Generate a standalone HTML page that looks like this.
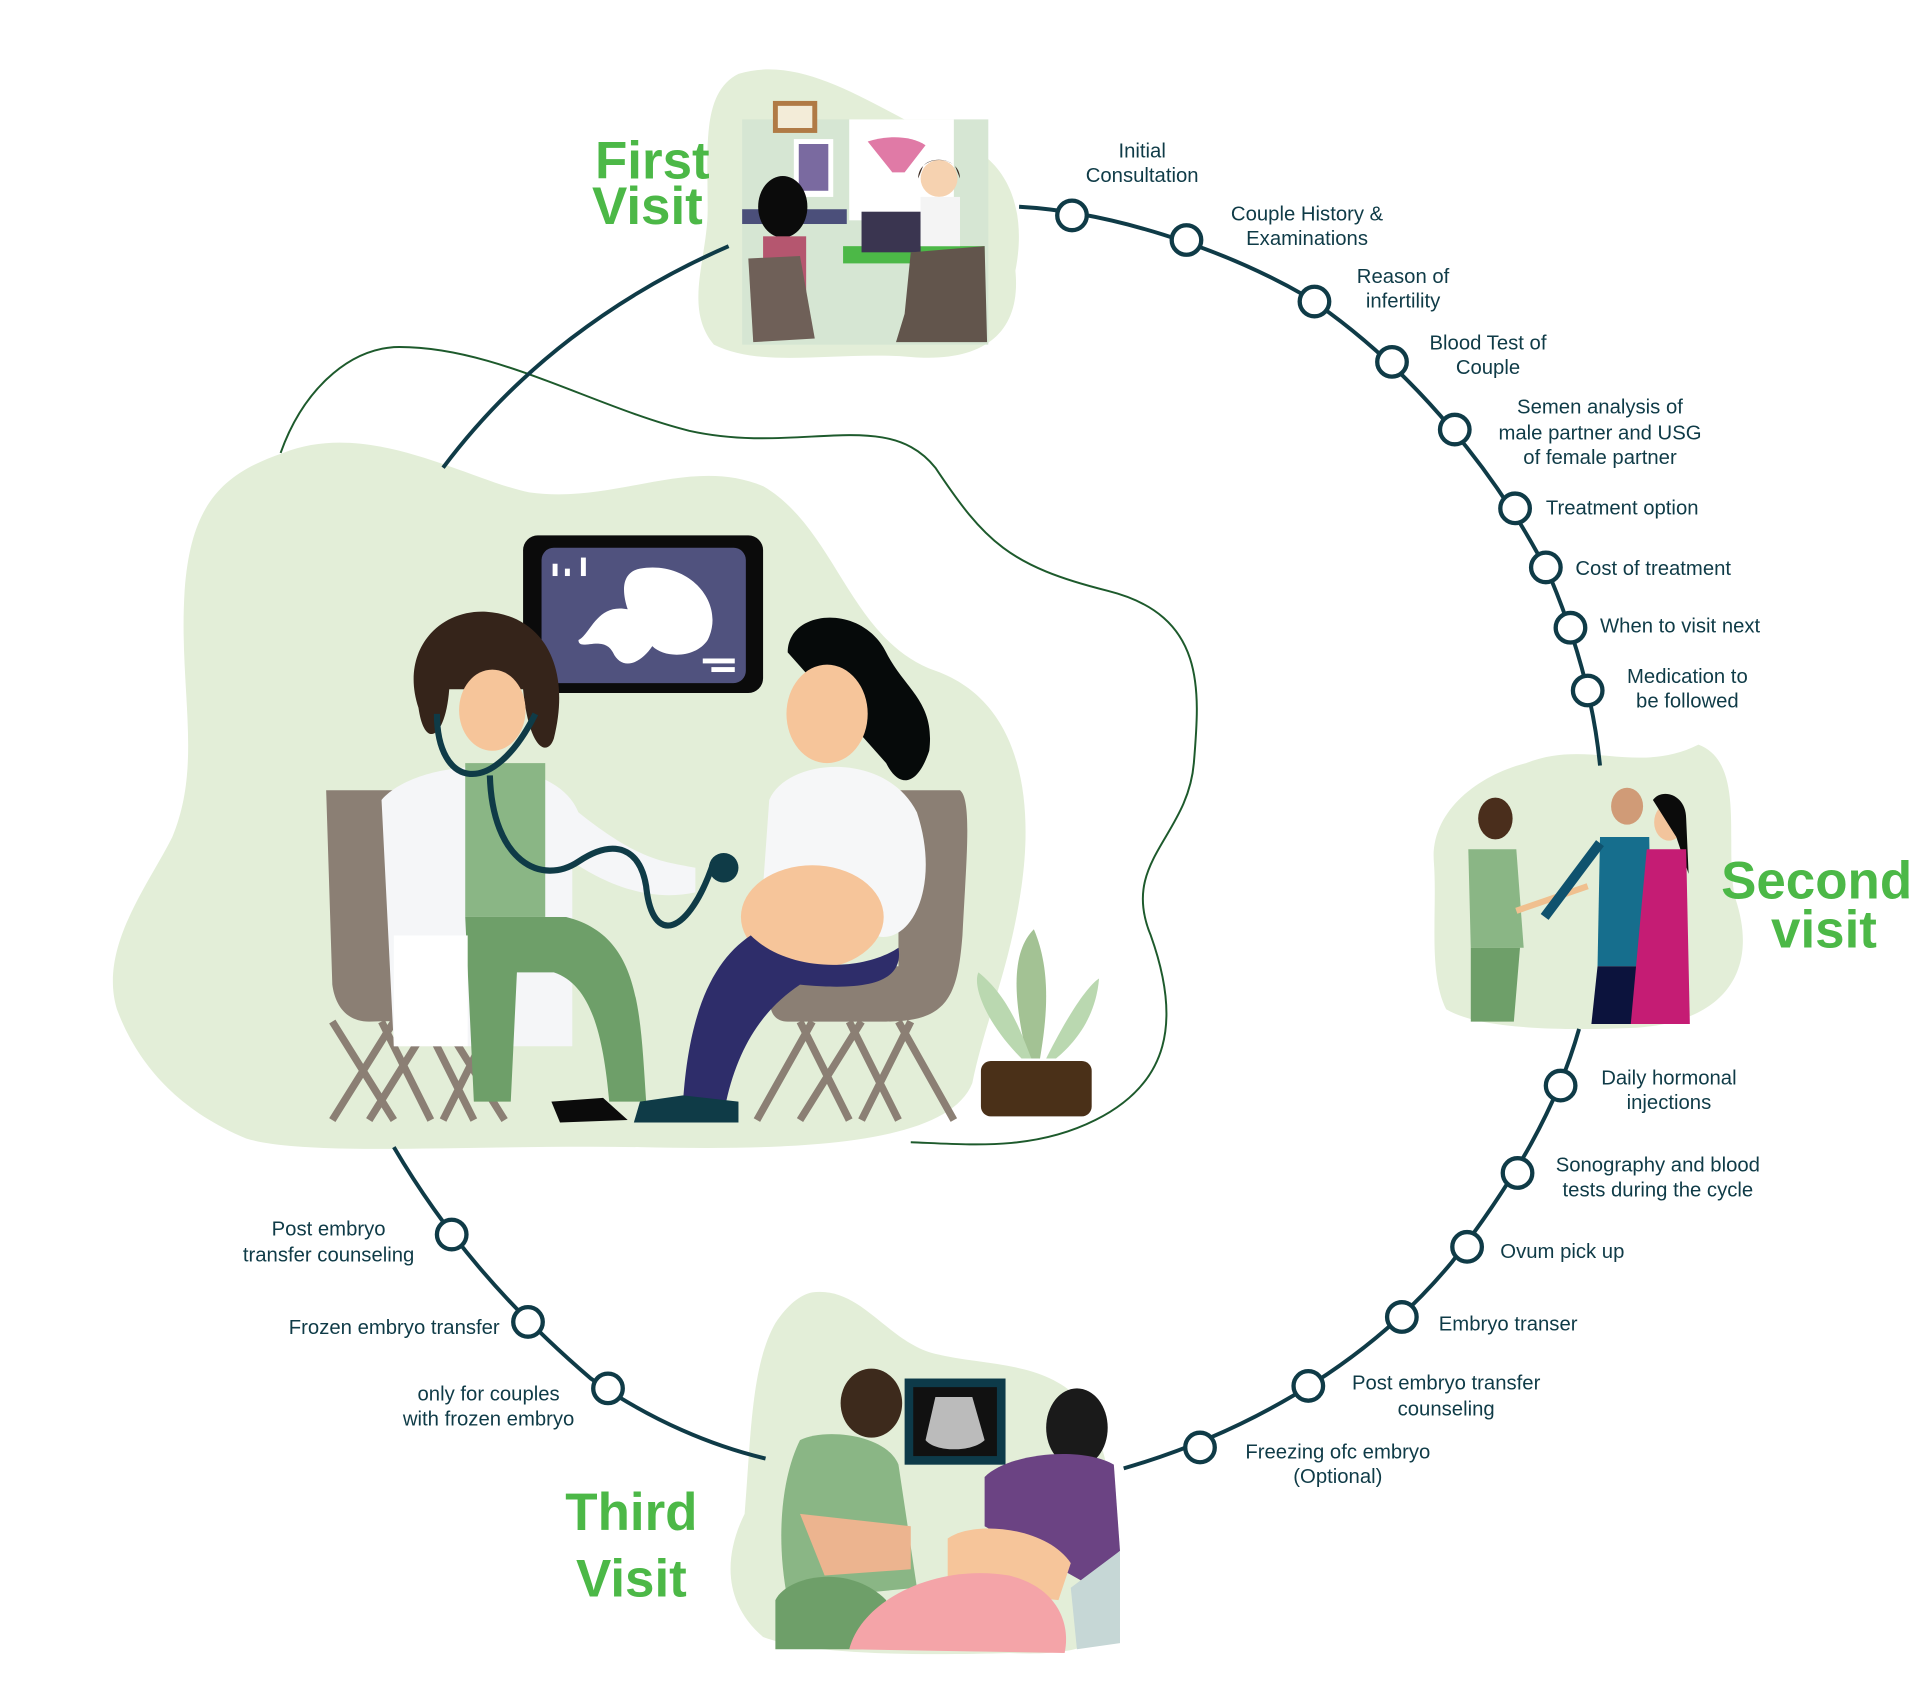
<!DOCTYPE html>
<html><head><meta charset="utf-8"><style>
html,body{margin:0;padding:0;background:#fff;}
svg{display:block;}
.t{font-family:"Liberation Sans",sans-serif;font-size:16.5px;fill:#0f3b47;}
.h{font-family:"Liberation Sans",sans-serif;font-weight:bold;font-size:43px;fill:#4cb847;}
.n{fill:#fff;stroke:#0f3b47;stroke-width:3.5;}
.ln{fill:none;stroke:#0f3b47;stroke-width:3.2;}
</style></head><body>
<svg width="1920" height="1685" viewBox="0 0 1560 1369" preserveAspectRatio="none" xmlns="http://www.w3.org/2000/svg">
<path d="M600,60 C650,45 700,80 760,110 C820,120 835,170 825,220 C830,270 800,295 740,290 C680,285 620,300 580,280 C555,250 575,210 575,170 C575,120 570,75 600,60 Z" fill="#e3eed8"/>
<path d="M230,368 C300,340 380,390 430,400 C500,410 560,370 620,395 C680,430 690,520 760,545 C830,570 840,650 830,720 C820,790 800,830 790,880 C770,930 650,935 520,932 C380,930 250,940 200,925 C140,900 110,860 95,820 C80,770 120,720 140,680 C165,620 145,560 150,480 C155,410 180,385 230,368 Z" fill="#e3eed8"/>
<path d="M1240,620 C1290,600 1330,630 1380,605 C1420,620 1400,690 1410,730 C1430,790 1400,830 1330,835 C1260,838 1200,835 1175,820 C1160,790 1168,740 1165,700 C1162,660 1200,630 1240,620 Z" fill="#e3eed8"/>
<path d="M660,1050 C700,1045 720,1090 760,1100 C800,1110 850,1105 880,1140 C910,1190 905,1260 905,1300 C905,1340 870,1345 820,1343 C750,1345 660,1345 620,1330 C585,1300 590,1260 605,1230 C610,1170 610,1110 630,1075 C640,1060 650,1052 660,1050 Z" fill="#e3eed8"/>
<path d="M228,368 C245,320 280,285 320,282 C400,280 480,330 560,350 C650,370 720,330 760,380 C800,440 820,460 900,480 C980,500 975,560 970,620 C965,680 910,700 935,760 C960,830 950,880 890,910 C840,935 790,930 740,928" fill="none" stroke="#1d5a2c" stroke-width="1.6"/>
<path class="ln" d="M360,380 C420,300 500,240 592,200"/>
<path class="ln" d="M828,168 C900,172 990,200 1060,240 C1150,300 1220,390 1260,470 C1285,530 1296,580 1300,622"/>
<path class="ln" d="M1283,836 C1265,900 1230,960 1180,1025 C1110,1110 1010,1165 913,1193"/>
<path class="ln" d="M320,932 C360,1000 410,1060 480,1120 C530,1155 580,1175 622,1185"/>
<g class="n">
<circle cx="871" cy="175" r="12"/><circle cx="964" cy="195" r="12"/><circle cx="1068" cy="245" r="12"/>
<circle cx="1131" cy="294" r="12"/><circle cx="1182" cy="349" r="12"/><circle cx="1231" cy="413" r="12"/>
<circle cx="1256" cy="461" r="12"/><circle cx="1276" cy="510" r="12"/><circle cx="1290" cy="561" r="12"/>
<circle cx="1268" cy="882" r="12"/><circle cx="1233" cy="953" r="12"/><circle cx="1192" cy="1013" r="12"/>
<circle cx="1139" cy="1070" r="12"/><circle cx="1063" cy="1126" r="12"/><circle cx="975" cy="1176" r="12"/>
<circle cx="367" cy="1003" r="12"/><circle cx="429" cy="1074" r="12"/><circle cx="494" cy="1128" r="12"/>
</g>
<g class="t" text-anchor="middle">
<text x="928" y="128">Initial</text><text x="928" y="148">Consultation</text>
<text x="1062" y="179">Couple History &amp;</text><text x="1062" y="199">Examinations</text>
<text x="1140" y="230">Reason of</text><text x="1140" y="250">infertility</text>
<text x="1209" y="284">Blood Test of</text><text x="1209" y="304">Couple</text>
<text x="1300" y="336">Semen analysis of</text><text x="1300" y="357">male partner and USG</text><text x="1300" y="377">of female partner</text>
<text x="1371" y="555">Medication to</text><text x="1371" y="575">be followed</text>
<text x="1356" y="881">Daily hormonal</text><text x="1356" y="901">injections</text>
<text x="1347" y="952">Sonography and blood</text><text x="1347" y="972">tests during the cycle</text>
<text x="1175" y="1129">Post embryo transfer</text><text x="1175" y="1150">counseling</text>
<text x="1087" y="1185">Freezing ofc embryo</text><text x="1087" y="1205">(Optional)</text>
<text x="267" y="1004">Post embryo</text><text x="267" y="1025">transfer counseling</text>
<text x="397" y="1138">only for couples</text><text x="397" y="1158">with frozen embryo</text>
</g>
<g class="t">
<text x="1256" y="418">Treatment option</text>
<text x="1280" y="467">Cost of treatment</text>
<text x="1300" y="514">When to visit next</text>
<text x="1219" y="1022">Ovum pick up</text>
<text x="1169" y="1081">Embryo transer</text>
<text x="406" y="1084" text-anchor="end">Frozen embryo transfer</text>
</g>
<g class="h" text-anchor="middle">
<text x="530" y="145">First</text><text x="526" y="182">Visit</text>
<text x="1476" y="730">Second</text><text x="1482" y="770">visit</text>
<text x="513" y="1243">Third</text><text x="513" y="1297">Visit</text>
</g>
<rect x="603" y="97" width="200" height="183" fill="#d6e6d3"/>
<rect x="628" y="82" width="36" height="26" fill="#b07a45"/><rect x="632" y="86" width="28" height="18" fill="#f3ecd8"/>
<rect x="645" y="113" width="32" height="47" fill="#fff"/><rect x="649" y="117" width="24" height="38" fill="#7a6aa0"/>
<rect x="690" y="97" width="85" height="82" fill="#fff"/><path d="M705,115 C720,110 740,110 752,118 L735,140 L725,140 Z" fill="#e07aa6"/>
<rect x="603" y="170" width="85" height="12" fill="#4b4f7a"/>
<rect x="685" y="200" width="115" height="14" fill="#4cb847"/>
<rect x="700" y="172" width="48" height="33" fill="#3a3550"/>
<circle cx="763" cy="145" r="15" fill="#f6d2b0"/><path d="M746,145 C746,125 780,125 780,145 L776,135 C770,128 755,128 750,135 Z" fill="#3b2a20"/>
<rect x="748" y="160" width="32" height="40" fill="#f4f4f4"/>
<ellipse cx="636" cy="168" rx="20" ry="25" fill="#0b0b0b"/>
<rect x="620" y="192" width="35" height="50" fill="#b5566f"/>
<path d="M608,210 L650,208 L662,275 L612,278 Z" fill="#6f6058"/>
<path d="M740,205 L800,200 L802,278 L728,278 L735,255 Z" fill="#62554c"/>
<rect x="425" y="435" width="195" height="128" rx="12" fill="#0b0b0b"/>
<rect x="440" y="445" width="166" height="110" rx="10" fill="#50527e"/>
<path d="M520,462 C560,455 590,490 575,520 C565,535 540,535 530,525 C520,540 505,545 498,530 C490,515 470,530 470,520 C480,515 485,490 510,495 C505,480 505,465 520,462 Z" fill="#fff"/>
<rect x="449" y="458" width="4" height="10" fill="#fff"/><rect x="459" y="462" width="4" height="6" fill="#fff"/><rect x="472" y="453" width="4" height="15" fill="#fff"/>
<rect x="571" y="535" width="26" height="4" fill="#fff"/><rect x="578" y="542" width="19" height="4" fill="#fff"/>
<path d="M265,642 L340,642 L345,820 L380,830 L420,790 L420,820 L390,828 L300,830 C280,830 272,815 270,800 Z" fill="#8b7f74"/>
<path d="M270,910 L320,830 M300,910 L350,830 M320,910 L270,830" stroke="#8b7f74" stroke-width="6"/>
<path d="M350,910 L310,830 M385,910 L345,830 M410,910 L360,830 M360,910 L400,830" stroke="#8b7f74" stroke-width="6"/>
<path d="M730,642 L780,642 C790,650 785,700 782,760 C778,810 770,830 720,830 L640,830 C620,830 620,800 650,790 L730,785 Z" fill="#8b7f74"/>
<path d="M615,910 L660,830 M650,910 L700,830 M690,910 L650,830 M730,910 L690,830 M775,910 L730,830 M700,910 L740,830" stroke="#8b7f74" stroke-width="6"/>
<path d="M340,575 C325,530 355,495 395,497 C440,500 465,540 450,600 C445,615 430,610 425,560 L365,560 C362,600 345,610 340,575 Z" fill="#35241a"/>
<ellipse cx="400" cy="577" rx="27" ry="33" fill="#f6c59a"/>
<path d="M310,650 C340,615 450,610 470,660 C520,700 540,700 565,705 L565,725 C520,735 480,710 465,700 L465,850 L320,850 Z" fill="#f5f6f8"/>
<rect x="378" y="620" width="65" height="125" fill="#8ab685"/>
<path d="M378,745 L460,745 C520,760 520,820 525,895 L495,895 C490,840 480,800 450,790 L420,790 L415,895 L385,895 Z" fill="#6e9f69"/>
<rect x="320" y="760" width="60" height="90" fill="#fff"/>
<path d="M448,895 L490,892 L510,910 L455,912 Z" fill="#0b0b0b"/>
<path d="M355,580 C355,640 400,650 435,580 M398,630 C400,700 440,720 470,700 C500,680 520,690 525,720 C530,770 560,760 580,700" fill="none" stroke="#0f3b47" stroke-width="5"/>
<circle cx="588" cy="705" r="12" fill="#0f3b47"/>
<path d="M640,530 C640,495 700,490 720,530 C735,560 760,570 755,610 C745,640 730,640 720,620 Z" fill="#060a0a"/>
<ellipse cx="672" cy="580" rx="33" ry="40" fill="#f6c59a"/>
<path d="M625,650 C640,615 720,610 745,660 C765,720 740,770 710,760 C680,760 640,730 620,720 Z" fill="#f6f7f8"/>
<ellipse cx="660" cy="745" rx="58" ry="42" fill="#f6c59a"/>
<path d="M610,760 C640,790 700,790 730,770 C735,800 700,805 650,800 C620,820 600,850 590,895 L555,895 C560,820 580,780 610,760 Z" fill="#2e2d6a"/>
<path d="M520,895 L555,890 L600,895 L600,912 L515,912 Z" fill="#0f3b47"/>
<path d="M835,860 C820,800 825,770 840,755 C855,790 850,830 845,860 Z" fill="#a3c294"/>
<path d="M830,860 C800,830 790,800 795,790 C820,810 830,840 838,860 Z" fill="#bad8b0"/>
<path d="M850,860 C870,820 885,800 893,795 C890,830 870,850 858,860 Z" fill="#bad8b0"/>
<rect x="797" y="862" width="90" height="45" rx="8" fill="#4a3018"/>
<ellipse cx="1215" cy="665" rx="14" ry="17" fill="#4a2e1c"/>
<path d="M1193,690 L1232,690 L1238,770 L1195,770 Z" fill="#8ab685"/>
<path d="M1195,770 L1235,770 L1230,830 L1195,830 Z" fill="#6e9f69"/>
<path d="M1232,740 L1290,720" stroke="#f0c08f" stroke-width="5"/>
<ellipse cx="1322" cy="655" rx="13" ry="15" fill="#d09b77"/>
<path d="M1300,680 L1340,680 L1342,785 L1298,785 Z" fill="#166e8d"/>
<path d="M1300,685 L1255,745" stroke="#0f526e" stroke-width="8"/>
<path d="M1298,785 L1340,785 L1335,832 L1293,832 Z" fill="#0c133d"/>
<ellipse cx="1356" cy="668" rx="12" ry="15" fill="#f2c49c"/>
<path d="M1343,650 C1350,640 1370,645 1370,665 L1372,710 L1362,680 Z" fill="#0b0b0b"/>
<path d="M1338,690 L1370,690 L1373,832 L1325,832 Z" fill="#c51c74"/>
<rect x="735" y="1120" width="82" height="70" fill="#0d3a49"/><rect x="742" y="1127" width="68" height="56" fill="#111"/>
<path d="M760,1135 L790,1135 L800,1170 C790,1180 760,1180 752,1170 Z" fill="#bbb"/>
<ellipse cx="708" cy="1140" rx="25" ry="28" fill="#3d2a1c"/>
<path d="M650,1170 C670,1160 720,1165 730,1190 L745,1290 L640,1300 C630,1250 635,1200 650,1170 Z" fill="#8ab685"/>
<path d="M650,1230 L740,1240 L740,1275 L670,1280 Z" fill="#ecb48f"/>
<path d="M630,1300 C640,1280 690,1270 720,1300 L720,1340 L630,1340 Z" fill="#6e9f69"/>
<ellipse cx="875" cy="1160" rx="25" ry="32" fill="#1a1a1a"/>
<path d="M800,1200 C820,1180 880,1175 905,1190 L910,1260 L880,1285 L800,1240 Z" fill="#6b4383"/>
<path d="M770,1250 C790,1235 850,1240 870,1270 L860,1300 L770,1290 Z" fill="#f6c59a"/>
<path d="M690,1340 C700,1300 760,1270 820,1280 C860,1290 870,1320 865,1343 Z" fill="#f4a4a8"/>
<path d="M870,1290 L910,1260 L910,1335 L875,1340 Z" fill="#c6d7d6"/>
</svg>
</body></html>
